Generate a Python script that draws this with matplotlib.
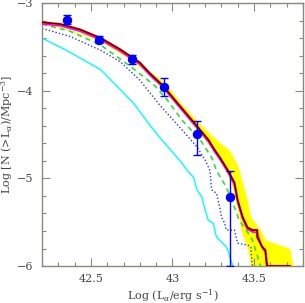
import matplotlib
matplotlib.use("Agg")
import matplotlib.pyplot as plt
from matplotlib.ticker import MultipleLocator

plt.rcParams['font.family'] = ['DejaVu Serif']
plt.rcParams['mathtext.fontset'] = 'dejavuserif'

# observed cumulative LF points
obs_x = [42.35, 42.55, 42.75, 42.95, 43.15, 43.35]
obs_y = [-3.19, -3.42, -3.64, -3.96, -4.49, -5.21]
obs_err_lo = [0.05, 0.04, 0.05, 0.10, 0.24, 0.79]
obs_err_hi = [0.05, 0.04, 0.05, 0.10, 0.14, 0.29]

# main model (black / red)
main_x = [42.2, 42.31, 42.43, 42.56, 42.68, 42.80, 42.86, 42.94, 43.03, 43.13,
          43.22, 43.26, 43.29, 43.34, 43.38, 43.40, 43.43, 43.46, 43.49, 43.52,
          43.52, 43.55, 43.57, 43.58, 43.72]
main_y = [-3.22, -3.24, -3.30, -3.40, -3.53, -3.68, -3.80, -3.94, -4.14, -4.36,
          -4.56, -4.68, -4.76, -4.91, -5.05, -5.25, -5.44, -5.56, -5.59, -5.59,
          -5.67, -5.78, -5.82, -6.0, -6.0]

# magenta model
mag_x = [42.2, 42.31, 42.43, 42.56, 42.68, 42.80, 42.86, 42.94, 43.03, 43.13,
         43.22, 43.26, 43.29, 43.34, 43.38, 43.40, 43.43, 43.46, 43.49, 43.52,
         43.55, 43.57, 43.58]
mag_y = [-3.24, -3.26, -3.32, -3.42, -3.55, -3.70, -3.82, -3.96, -4.16, -4.38,
         -4.58, -4.70, -4.78, -4.93, -5.07, -5.27, -5.46, -5.58, -5.61, -5.62,
         -5.79, -5.84, -6.0]

# yellow band around the main model
band_y = [-3.19, -3.22, -3.42, -3.65, -3.91, -4.15, -4.37, -4.56, -4.68, -4.85,
          -5.05, -5.25, -5.44, -5.59, -5.70, -5.80, -6.0]
band_lo = [42.2, 42.2, 42.545, 42.745, 42.925, 43.025, 43.115, 43.2, 43.25, 43.31,
           43.36, 43.385, 43.41, 43.42, 43.44, 43.46, 43.48]
band_hi = [42.21, 42.22, 42.57, 42.77, 42.955, 43.055, 43.165, 43.27, 43.35, 43.40,
           43.43, 43.46, 43.48, 43.54, 43.57, 43.72, 43.74]

# green dashed model
green_x = [42.2, 42.37, 42.56, 42.74, 42.89, 42.97, 43.06, 43.17, 43.24, 43.27,
           43.33, 43.37, 43.41, 43.46, 43.49, 43.51, 43.54]
green_y = [-3.24, -3.32, -3.48, -3.72, -3.94, -4.11, -4.34, -4.56, -4.76, -4.91,
           -5.10, -5.28, -5.48, -5.61, -5.70, -5.82, -6.0]

# blue dotted model
dot_x = [42.2, 42.37, 42.56, 42.68, 42.80, 42.92, 43.06, 43.15, 43.20, 43.23,
         43.24, 43.27, 43.29, 43.30, 43.32, 43.33, 43.38, 43.40, 43.46, 43.48,
         43.49]
dot_y = [-3.29, -3.38, -3.54, -3.67, -3.88, -4.16, -4.45, -4.64, -4.79, -4.91,
         -5.13, -5.17, -5.33, -5.44, -5.51, -5.59, -5.59, -5.74, -5.76, -5.78,
         -6.0]

# cyan model
cyan_x = [42.2, 42.35, 42.56, 42.76, 42.86, 42.92, 43.0, 43.06, 43.09, 43.13,
          43.15, 43.18, 43.2, 43.22, 43.25, 43.27, 43.33, 43.34, 43.37]
cyan_y = [-3.40, -3.54, -3.76, -4.14, -4.39, -4.53, -4.70, -4.83, -4.91, -4.99,
          -5.13, -5.21, -5.36, -5.48, -5.51, -5.67, -5.78, -5.82, -6.0]

fig = plt.figure(figsize=(3.05, 3.03), dpi=100)
ax = fig.add_axes([0.138, 0.122, 0.855, 0.868])

ax.fill_betweenx(band_y, band_lo, band_hi, color='#ffff00', lw=0, zorder=1)
ax.plot(cyan_x, cyan_y, color='#00ffff', lw=1.0, zorder=2)
ax.plot(dot_x, dot_y, color='#3333ee', lw=1.0, ls=(0, (1, 1.5)), zorder=2)
ax.plot(green_x, green_y, color='#33dd33', lw=1.2, ls=(0, (3, 2.5)), zorder=3)
ax.plot(mag_x, mag_y, color='#ff00ff', lw=1.2, zorder=3)
ax.plot(main_x, main_y, color='#ff0000', lw=1.6, zorder=4)
ax.plot(main_x, main_y, color='black', lw=0.6, zorder=5)
ax.errorbar(obs_x, obs_y, yerr=[obs_err_lo, obs_err_hi], fmt='o', color='#0000ff',
            ms=5.8, elinewidth=1.0, capsize=3, capthick=1.0, zorder=6)

ax.set_xlim(42.2, 43.8)
ax.set_ylim(-6, -3)
ax.set_xticks([42.5, 43, 43.5])
ax.set_xticklabels(['42.5', '43', '43.5'])
ax.xaxis.set_minor_locator(MultipleLocator(0.1))
ax.set_yticks([-6, -5, -4, -3])
ax.set_yticklabels(['\u22126', '\u22125', '\u22124', '\u22123'])
ax.yaxis.set_minor_locator(MultipleLocator(0.2))

spine_col = '#8a8a78'
for s in ax.spines.values():
    s.set_color(spine_col)
    s.set_linewidth(1.0)
ax.tick_params(which='both', direction='in', top=True, right=True,
               color=spine_col, labelcolor='#444444', labelsize=8)
ax.tick_params(which='major', length=6, width=0.8, pad=6)
ax.tick_params(which='minor', length=3, width=0.8)

ax.set_xlabel(r'Log (L$_\alpha$/erg s$^{-1}$)', fontsize=8, color='#444444')
ax.set_ylabel(r'Log [N (>L$_\alpha$)/Mpc$^{-3}$]', fontsize=8, color='#444444')
ax.xaxis.set_label_coords(0.5, -0.08)
ax.yaxis.set_label_coords(-0.105, 0.5)

fig.savefig('out.png', dpi=100)
